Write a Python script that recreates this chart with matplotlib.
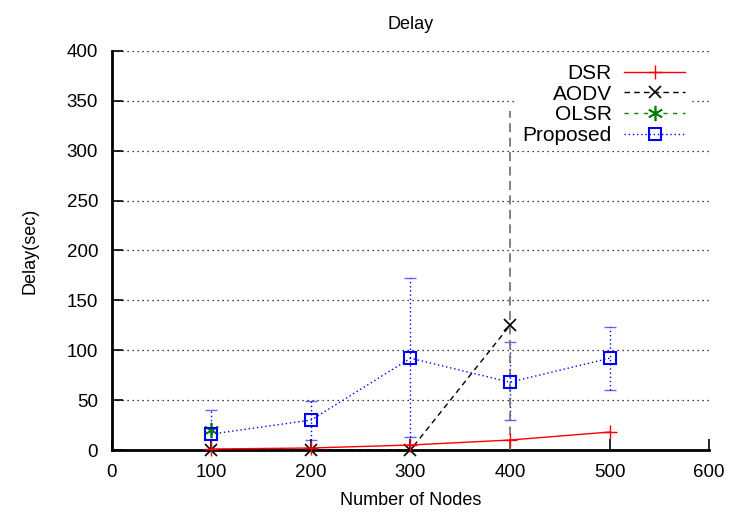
import matplotlib.pyplot as plt
import numpy as np

plt.rcParams['font.family'] = ['Liberation Sans', 'DejaVu Sans']

# number of nodes
nodes = [100, 200, 300, 400, 500]

# delay values (sec)
dsr = [1, 2, 5, 10, 18]
aodv_x = [100, 200, 300, 400]
aodv = [0, 0, 0, 125]
aodv_lo = [0, 0, 0, 0]
aodv_hi = [0, 0, 0, 340]
olsr_x = [100]
olsr = [20]
prop = [16, 30, 92, 68, 92]
prop_lo = [0, 10, 13, 30, 60]
prop_hi = [40, 49, 172, 108, 123]

yticks = [0, 50, 100, 150, 200, 250, 300, 350, 400]
xticks = [0, 100, 200, 300, 400, 500, 600]

fig = plt.figure(figsize=(7.29, 5.14), dpi=100)
ax = fig.add_axes([0.1536, 0.1245, 0.819, 0.7763])

# error bars
pe = np.array(prop)
eb1 = ax.errorbar(nodes, prop, yerr=[pe - np.array(prop_lo), np.array(prop_hi) - pe],
                  fmt='none', ecolor='#0000ff', elinewidth=1, capsize=4, capthick=1,
                  zorder=3)
for c in eb1[2]:
    c.set_linestyle((0, (1, 2)))
for c in eb1[1]:
    c.set_alpha(0.6)
ae = np.array(aodv)
eb2 = ax.errorbar(aodv_x, aodv, yerr=[ae - np.array(aodv_lo), np.array(aodv_hi) - ae],
                  fmt='none', ecolor='#777777', elinewidth=1.3, capsize=0, zorder=3)
for c in eb2[2]:
    c.set_linestyle((0, (5, 3)))

ax.plot(nodes, dsr, color='#ff0000', lw=1, marker='+', ms=10, mew=1,
        label='DSR', zorder=5, clip_on=False)
ax.plot(aodv_x, aodv, color='black', lw=1, ls=(0, (4, 3)), marker='x', ms=9, mew=1.2,
        label='AODV', zorder=4, clip_on=False)
ax.plot(olsr_x, olsr, color='#007f00', lw=1, ls=(0, (3, 4)), marker=(6, 2, 0), ms=11,
        mew=1.2, label='OLSR', zorder=4, clip_on=False)
ax.plot(nodes, prop, color='#0000ff', lw=1, ls=(0, (1, 2)), marker='s', ms=8, mew=1.5,
        mfc='none', label='Proposed', zorder=6, clip_on=False)

ax.set_xlim(0, 600)
ax.set_ylim(0, 400)
ax.set_xticks(xticks)
ax.set_yticks(yticks)
ax.tick_params(direction='in', length=8, width=1.2, labelsize=13.5, pad=10)
ax.spines['top'].set_visible(False)
ax.spines['right'].set_visible(False)
ax.spines['left'].set_linewidth(2)
ax.spines['bottom'].set_linewidth(2)
for y in yticks[1:]:
    ax.axhline(y, color='black', lw=0.9, ls=(0, (1, 3)), zorder=1)

ax.set_title('Delay', fontsize=13, pad=16)
ax.set_xlabel('Number of Nodes', fontsize=13, labelpad=8)
ax.set_ylabel('Delay(sec)', fontsize=13, labelpad=20)

leg = ax.legend(loc='upper right', bbox_to_anchor=(0.97, 0.983), markerfirst=False,
                frameon=True, fontsize=15, handlelength=2.9, labelspacing=0.08,
                borderpad=0.3, handletextpad=0.6, borderaxespad=0)
leg.get_frame().set_edgecolor('none')
leg.get_frame().set_facecolor('white')
leg.get_frame().set_alpha(1)
leg.get_frame().set_boxstyle('square', pad=0)
leg.set_zorder(10)

fig.savefig('out.png', dpi=100)
